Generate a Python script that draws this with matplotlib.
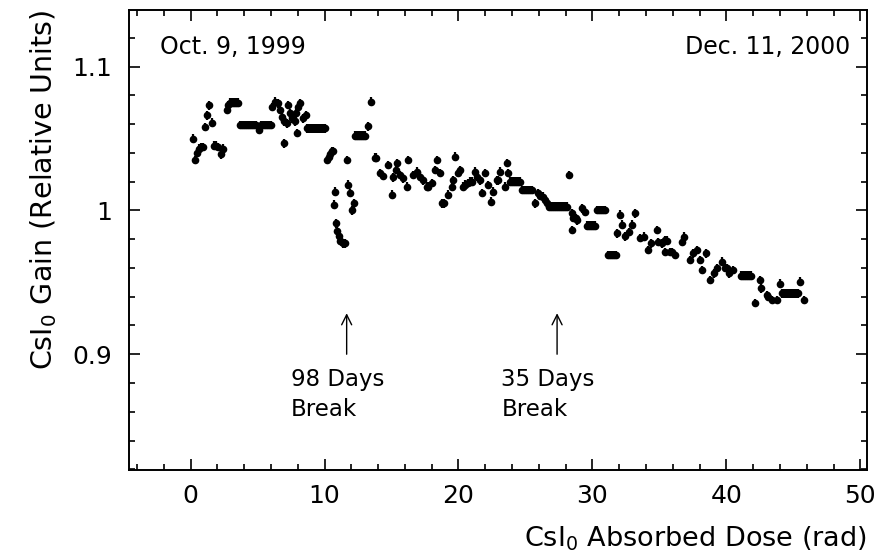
import numpy as np
import matplotlib
matplotlib.use("Agg")
import matplotlib.pyplot as plt
from matplotlib.ticker import MultipleLocator

plt.rcParams['font.family'] = ['DejaVu Sans']
plt.rcParams['mathtext.default'] = 'regular'

# absorbed dose (rad) and relative gain of the CsI0 calorimeter
dose = [
    0.15, 0.32, 0.50, 0.65, 0.78, 0.92, 1.07, 1.19, 1.39, 1.57,
    1.75, 1.90, 2.06, 2.24, 2.43, 2.69, 2.81, 2.95, 3.10, 3.25,
    3.40, 3.55, 3.70, 3.85, 4.00, 4.15, 4.30, 4.45, 4.60, 4.75,
    4.90, 5.10, 5.25, 5.40, 5.55, 5.70, 5.85, 6.00, 6.05, 6.30,
    6.54, 6.67, 6.80, 6.97, 6.97, 7.17, 7.29, 7.42, 7.54, 7.79,
    7.90, 7.96, 8.04, 8.16, 8.40, 8.60, 8.70, 8.85, 9.00, 9.15,
    9.30, 9.45, 9.60, 9.75, 9.90, 10.05, 10.15, 10.30, 10.40, 10.55,
    10.65, 10.72, 10.78, 10.85, 10.95, 11.05, 11.15, 11.28, 11.40, 11.50,
    11.65, 11.73, 11.90, 12.08, 12.20, 12.30, 12.45, 12.60, 12.75, 12.90,
    13.05, 13.27, 13.50, 13.77, 13.85, 14.14, 14.40, 14.76, 15.06, 15.10,
    15.33, 15.40, 15.63, 15.88, 16.13, 16.25, 16.63, 16.88, 17.12, 17.37,
    17.63, 17.75, 18.00, 18.25, 18.37, 18.60, 18.80, 18.90, 19.24, 19.50,
    19.60, 19.74, 20.00, 20.10, 20.36, 20.50, 20.70, 20.85, 21.00, 21.20,
    21.36, 21.60, 21.73, 21.98, 22.20, 22.40, 22.60, 22.85, 22.95, 23.10,
    23.47, 23.64, 23.72, 23.85, 24.00, 24.15, 24.30, 24.45, 24.60, 24.75,
    24.90, 25.05, 25.20, 25.35, 25.50, 25.70, 25.96, 26.10, 26.33, 26.45,
    26.60, 26.75, 26.90, 27.05, 27.20, 27.35, 27.50, 27.65, 27.80, 27.95,
    28.10, 28.27, 28.45, 28.45, 28.57, 28.77, 28.83, 29.20, 29.45, 29.60,
    29.75, 29.90, 30.05, 30.20, 30.35, 30.50, 30.65, 30.80, 30.95, 31.15,
    31.30, 31.45, 31.60, 31.75, 31.86, 32.06, 32.20, 32.43, 32.70, 32.93,
    33.20, 33.56, 33.86, 34.17, 34.40, 34.80, 34.92, 35.17, 35.40, 35.55,
    35.42, 35.80, 35.95, 36.17, 36.67, 36.80, 37.29, 37.54, 37.80, 38.04,
    38.17, 38.47, 38.80, 39.05, 39.30, 39.68, 39.92, 40.05, 40.17, 40.50,
    41.10, 41.25, 41.40, 41.55, 41.70, 41.85, 42.14, 42.50, 42.57, 43.00,
    43.10, 43.40, 43.80, 44.00, 44.15, 44.30, 44.45, 44.60, 44.75, 44.90,
    45.05, 45.20, 45.35, 45.50, 45.80,
]
gain = [
    1.0500, 1.0350, 1.0400, 1.0430, 1.0440, 1.0440, 1.0580, 1.0660, 1.0730, 1.0610,
    1.0450, 1.0450, 1.0440, 1.0390, 1.0430, 1.0700, 1.0730, 1.0750, 1.0750, 1.0750,
    1.0750, 1.0750, 1.0595, 1.0595, 1.0595, 1.0595, 1.0595, 1.0595, 1.0595, 1.0595,
    1.0595, 1.0560, 1.0595, 1.0595, 1.0595, 1.0595, 1.0595, 1.0595, 1.0720, 1.0757,
    1.0745, 1.0700, 1.0650, 1.0620, 1.0467, 1.0606, 1.0734, 1.0676, 1.0640, 1.0620,
    1.0676, 1.0537, 1.0720, 1.0745, 1.0640, 1.0664, 1.0570, 1.0570, 1.0570, 1.0570,
    1.0570, 1.0570, 1.0570, 1.0570, 1.0570, 1.0570, 1.0350, 1.0370, 1.0390, 1.0410,
    1.0410, 1.0040, 1.0130, 0.9910, 0.9860, 0.9820, 0.9790, 0.9780, 0.9770, 0.9770,
    1.0350, 1.0180, 1.0120, 1.0000, 1.0050, 1.0520, 1.0520, 1.0520, 1.0520, 1.0520,
    1.0520, 1.0585, 1.0757, 1.0367, 1.0367, 1.0260, 1.0240, 1.0316, 1.0110, 1.0230,
    1.0280, 1.0330, 1.0247, 1.0224, 1.0166, 1.0350, 1.0247, 1.0270, 1.0235, 1.0210,
    1.0166, 1.0166, 1.0190, 1.0280, 1.0350, 1.0260, 1.0050, 1.0050, 1.0110, 1.0166,
    1.0210, 1.0374, 1.0260, 1.0280, 1.0166, 1.0180, 1.0190, 1.0200, 1.0200, 1.0270,
    1.0235, 1.0210, 1.0120, 1.0260, 1.0177, 1.0060, 1.0130, 1.0210, 1.0210, 1.0270,
    1.0166, 1.0330, 1.0260, 1.0200, 1.0200, 1.0200, 1.0200, 1.0200, 1.0200, 1.0143,
    1.0143, 1.0143, 1.0143, 1.0143, 1.0143, 1.0050, 1.0120, 1.0100, 1.0096, 1.0070,
    1.0050, 1.0026, 1.0026, 1.0026, 1.0026, 1.0026, 1.0026, 1.0026, 1.0026, 1.0026,
    1.0026, 1.0247, 0.9980, 0.9864, 0.9946, 0.9946, 0.9930, 1.0015, 0.9990, 0.9895,
    0.9895, 0.9895, 0.9895, 0.9895, 1.0003, 1.0003, 1.0003, 1.0003, 1.0003, 0.9690,
    0.9690, 0.9690, 0.9690, 0.9690, 0.9840, 0.9970, 0.9900, 0.9820, 0.9850, 0.9900,
    0.9980, 0.9807, 0.9818, 0.9725, 0.9770, 0.9864, 0.9780, 0.9770, 0.9795, 0.9790,
    0.9710, 0.9710, 0.9710, 0.9690, 0.9780, 0.9818, 0.9656, 0.9702, 0.9725, 0.9656,
    0.9586, 0.9702, 0.9517, 0.9563, 0.9600, 0.9644, 0.9600, 0.9600, 0.9563, 0.9586,
    0.9547, 0.9547, 0.9547, 0.9547, 0.9547, 0.9547, 0.9355, 0.9517, 0.9459, 0.9412,
    0.9400, 0.9378, 0.9378, 0.9490, 0.9424, 0.9424, 0.9424, 0.9424, 0.9424, 0.9424,
    0.9424, 0.9424, 0.9424, 0.9505, 0.9378,
]
gain_err = 0.003

# beam-off periods
breaks = [(11.65, "98 Days\nBreak", 7.5), (27.36, "35 Days\nBreak", 23.2)]

fig = plt.figure(figsize=(8.83, 5.56), dpi=100)
ax = fig.add_axes([0.1461, 0.1547, 0.8358, 0.8282])

ax.errorbar(dose, gain, yerr=gain_err, fmt='o', color='black', ms=5.5,
            mew=0, elinewidth=1.6, capsize=0)

ax.set_xlim(-4.6, 50.5)
ax.set_ylim(0.8195, 1.1397)
ax.xaxis.set_major_locator(MultipleLocator(10))
ax.xaxis.set_minor_locator(MultipleLocator(2))
ax.yaxis.set_major_locator(MultipleLocator(0.1))
ax.yaxis.set_minor_locator(MultipleLocator(0.02))
ax.set_yticks([0.9, 1.0, 1.1])
ax.set_yticklabels(["0.9", "1", "1.1"])
ax.tick_params(which='both', direction='in', top=True, right=True, width=1.2)
ax.tick_params(which='major', length=8, labelsize=18, pad=10)
ax.tick_params(which='minor', length=4)
ax.tick_params(axis='y', pad=12)
for s in ax.spines.values():
    s.set_linewidth(1.4)

ax.set_xlabel("CsI$_0$ Absorbed Dose (rad)", fontsize=19.5, loc='right', labelpad=12)
ax.set_ylabel("CsI$_0$ Gain (Relative Units)", fontsize=20.5, loc='top', labelpad=10)

ax.text(-2.3, 1.1137, "Oct. 9, 1999", fontsize=17, va='center', ha='left')
ax.text(49.25, 1.1137, "Dec. 11, 2000", fontsize=17, va='center', ha='right')

for bx, label, tx in breaks:
    ax.annotate("", xy=(bx, 0.9285), xytext=(bx, 0.9),
                arrowprops=dict(arrowstyle='->', lw=1.0, color='black',
                                mutation_scale=18, shrinkA=0, shrinkB=0))
    ax.text(tx, 0.8905, label, fontsize=16.5, va='top', ha='left', linespacing=1.4)

fig.savefig("out.png", dpi=100)
